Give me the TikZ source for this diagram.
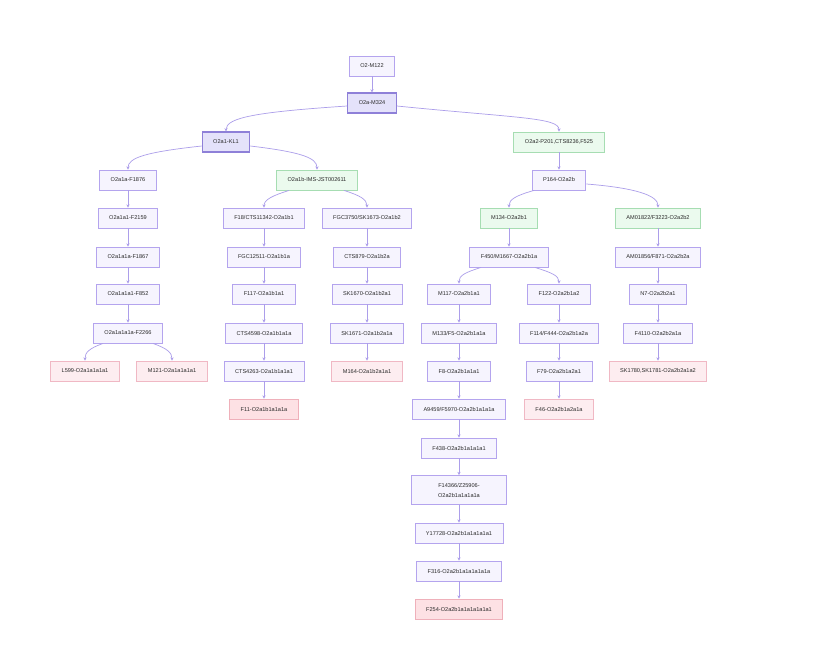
\documentclass[tikz,border=0pt]{standalone}
\usepackage{fontspec}
\setmainfont{Liberation Sans}
\usetikzlibrary{arrows.meta}
\definecolor{nfill}{HTML}{F6F4FE}
\definecolor{nline}{HTML}{B4A4EE}
\definecolor{dfill}{HTML}{E4E2FA}
\definecolor{dline}{HTML}{8E80D8}
\definecolor{gfill}{HTML}{EBFAEE}
\definecolor{gline}{HTML}{A6DDB2}
\definecolor{pfill}{HTML}{FDEDF0}
\definecolor{pline}{HTML}{F0B8C4}
\definecolor{rfill}{HTML}{FDE1E4}
\definecolor{rline}{HTML}{EFB0BA}
\definecolor{eline}{HTML}{AC9EEA}
\definecolor{txt}{HTML}{2A2A2A}
\begin{document}
\begin{tikzpicture}[x=1pt,y=-1pt,
 box/.style={draw=nline, fill=nfill, line width=0.9pt, text=txt, font=\fontsize{5.6}{7}\selectfont, inner xsep=11pt, inner ysep=0pt, minimum height=20pt},
 dbox/.style={box, draw=dline, fill=dfill, line width=1.05pt},
 gbox/.style={box, draw=gline, fill=gfill},
 pbox/.style={box, draw=pline, fill=pfill},
 rbox/.style={box, draw=rline, fill=rfill},
 edge/.style={draw=eline, line width=0.7pt, -{Stealth[length=3.2pt,width=3.2pt]}}
]
\fill[white] (0,0) rectangle (820,652);
\useasboundingbox (0,0) rectangle (820,652);
% top
\node[box] (n1) at (372,66) {O2-M122};
\node[dbox] (m324) at (372,103) {O2a-M324};
\node[dbox] (kl1) at (226,142) {O2a1-KL1};
\node[gbox] (o2a2) at (559,142) {O2a2-P201,CTS8236,F525};
% left subtree
\node[box] (a1) at (128,180) {O2a1a-F1876};
\node[gbox] (b0) at (317,180) {O2a1b-IMS-JST002611};
\node[box] (a2) at (128,218) {O2a1a1-F2159};
\node[box] (b1) at (264,218) {F18/CTS11342-O2a1b1};
\node[box] (c1) at (367,218) {FGC3750/SK1673-O2a1b2};
\node[box] (a3) at (128,257) {O2a1a1a-F1867};
\node[box] (b2) at (264,257) {FGC12511-O2a1b1a};
\node[box] (c2) at (367,257) {CTS879-O2a1b2a};
\node[box] (a4) at (128,294) {O2a1a1a1-F852};
\node[box] (b3) at (264,294) {F117-O2a1b1a1};
\node[box] (c3) at (367,294) {SK1670-O2a1b2a1};
\node[box] (a5) at (128,333) {O2a1a1a1a-F2266};
\node[box] (b4) at (264,333) {CTS4598-O2a1b1a1a};
\node[box] (c4) at (367,333) {SK1671-O2a1b2a1a};
\node[pbox] (l599) at (85,371) {L599-O2a1a1a1a1};
\node[pbox] (m121) at (172,371) {M121-O2a1a1a1a1};
\node[box] (b5) at (264,371) {CTS4263-O2a1b1a1a1};
\node[pbox] (c5) at (367,371) {M164-O2a1b2a1a1};
\node[rbox] (b6) at (264,409) {F11-O2a1b1a1a1a};
% right subtree
\node[box] (p164) at (559,180) {P164-O2a2b};
\node[gbox] (m134) at (509,218) {M134-O2a2b1};
\node[gbox] (am1) at (658,218) {AM01822/F3223-O2a2b2};
\node[box] (f450) at (509,257) {F450/M1667-O2a2b1a};
\node[box] (am2) at (658,257) {AM01856/F871-O2a2b2a};
\node[box] (d1) at (459,294) {M117-O2a2b1a1};
\node[box] (e1) at (559,294) {F122-O2a2b1a2};
\node[box] (g1) at (658,294) {N7-O2a2b2a1};
\node[box] (d2) at (459,333) {M133/F5-O2a2b1a1a};
\node[box] (e2) at (559,333) {F114/F444-O2a2b1a2a};
\node[box] (g2) at (658,333) {F4110-O2a2b2a1a};
\node[box] (d3) at (459,371) {F8-O2a2b1a1a1};
\node[box] (e3) at (559,371) {F79-O2a2b1a2a1};
\node[pbox] (g3) at (658,371) {SK1780,SK1781-O2a2b2a1a2};
\node[box] (d4) at (459,409) {A9459/F5970-O2a2b1a1a1a};
\node[pbox] (e4) at (559,409) {F46-O2a2b1a2a1a};
\node[box] (d5) at (459,448) {F438-O2a2b1a1a1a1};
\node[box, minimum width=95pt, minimum height=29pt, align=center, font=\fontsize{5.6}{10}\selectfont] (d6) at (459,490) {F14366/Z25906-\\O2a2b1a1a1a1a};
\node[box] (d7) at (459,533) {Y17728-O2a2b1a1a1a1a1};
\node[box] (d8) at (459,571) {F316-O2a2b1a1a1a1a1a};
\node[rbox] (d9) at (459,609) {F254-O2a2b1a1a1a1a1a1};
% edges
\draw[edge] (n1) -- (m324);
\draw[edge] ([yshift=-3pt]m324.west) .. controls +(-90,6) and +(0,-14) .. (kl1.north);
\draw[edge] ([yshift=-3pt]m324.east) .. controls +(120,12) and +(0,-14) .. (o2a2.north);
\draw[edge] ([yshift=-4pt]kl1.west) .. controls +(-55,6) and +(0,-12) .. (a1.north);
\draw[edge] ([yshift=-4pt]kl1.east) .. controls +(50,6) and +(0,-12) .. (b0.north);
\draw[edge] (o2a2) -- (p164);
\draw[edge] (a1) -- (a2);
\draw[edge] (a2) -- (a3);
\draw[edge] (a3) -- (a4);
\draw[edge] (a4) -- (a5);
\draw[edge] ([xshift=-25pt]a5.south) .. controls +(-14,5) and +(0,-8) .. (l599.north);
\draw[edge] ([xshift=25pt]a5.south) .. controls +(14,5) and +(0,-8) .. (m121.north);
\draw[edge] ([xshift=-28pt]b0.south) .. controls +(-16,5) and +(0,-8) .. (b1.north);
\draw[edge] ([xshift=27pt]b0.south) .. controls +(16,5) and +(0,-8) .. (c1.north);
\draw[edge] (b1) -- (b2);
\draw[edge] (b2) -- (b3);
\draw[edge] (b3) -- (b4);
\draw[edge] (b4) -- (b5);
\draw[edge] (b5) -- (b6);
\draw[edge] (c1) -- (c2);
\draw[edge] (c2) -- (c3);
\draw[edge] (c3) -- (c4);
\draw[edge] (c4) -- (c5);
\draw[edge] ([xshift=-25pt]p164.south) .. controls +(-18,5) and +(0,-8) .. (m134.north);
\draw[edge] ([yshift=-4pt]p164.east) .. controls +(50,4) and +(0,-12) .. (am1.north);
\draw[edge] (m134) -- (f450);
\draw[edge] ([xshift=-28pt]f450.south) .. controls +(-16,5) and +(0,-8) .. (d1.north);
\draw[edge] ([xshift=26pt]f450.south) .. controls +(16,5) and +(0,-8) .. (e1.north);
\draw[edge] (d1) -- (d2);
\draw[edge] (d2) -- (d3);
\draw[edge] (d3) -- (d4);
\draw[edge] (d4) -- (d5);
\draw[edge] (d5) -- (d6);
\draw[edge] (d6) -- (d7);
\draw[edge] (d7) -- (d8);
\draw[edge] (d8) -- (d9);
\draw[edge] (e1) -- (e2);
\draw[edge] (e2) -- (e3);
\draw[edge] (e3) -- (e4);
\draw[edge] (am1) -- (am2);
\draw[edge] (am2) -- (g1);
\draw[edge] (g1) -- (g2);
\draw[edge] (g2) -- (g3);
\end{tikzpicture}
\end{document}
